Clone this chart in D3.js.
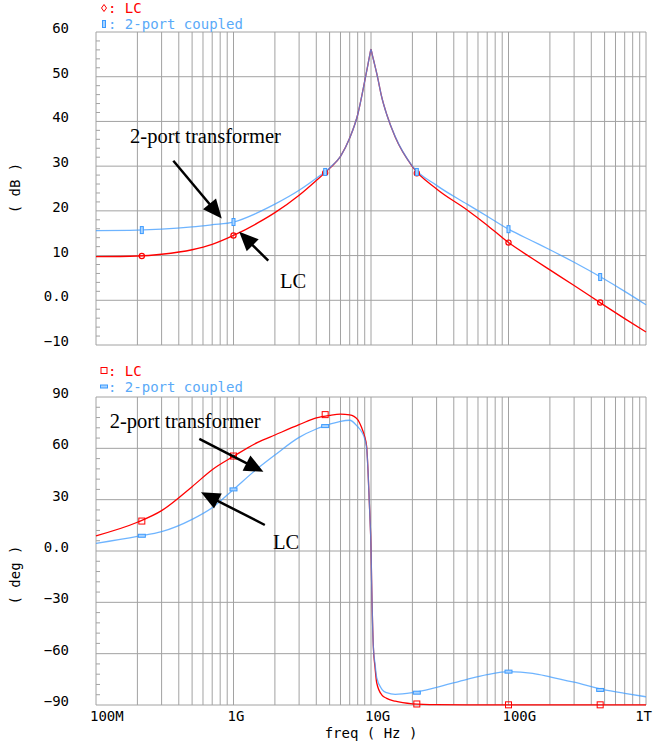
<!DOCTYPE html>
<html>
<head>
<meta charset="utf-8">
<script src="https://cdn.jsdelivr.net/npm/d3@7"></script>
<style>
   body{margin:0;background:#fff;}
   svg{display:block;}
   .lbl{font-family:'DejaVu Sans Mono',monospace;font-size:14px;}
   .note{font-family:'Liberation Serif','Times New Roman',serif;font-size:20.5px;}
</style>
</head>
<body>
<svg id="chart" width="653" height="747"></svg>
<script>
// frequencies in GHz
var freqMag = [0.1,0.2,0.3,0.5,0.7,1,1.5,2,3,4,5,6,7,8,9,9.5,9.8,10,10.2,10.5,11,12,13,15,20,30,50,70,100,150,200,300,500,700,1000];
var magLC   = [9.75,9.9,10.3,11.3,12.5,14.5,17.3,19.6,23.5,26.8,29.5,32.2,36.3,41.5,49.0,52.7,54.9,56.1,55.0,53.4,50.8,45.3,41.6,36.5,29.9,24.9,20.2,16.8,12.9,9.3,6.8,3.3,-1.2,-4.1,-7.1];
var magTwo  = [15.6,15.7,15.9,16.4,16.9,17.5,19.6,21.5,24.6,27.3,29.6,32.2,36.3,41.5,49.0,52.7,54.9,56.1,55.0,53.4,50.8,45.3,41.6,36.6,30.0,25.7,21.5,18.8,15.9,13.2,11.3,8.5,4.7,2.0,-1.0];

var freqPh  = [0.1,0.2,0.3,0.5,0.7,1,1.5,2,3,4,5,6,7,8,8.5,9,9.3,9.5,9.8,10,10.1,10.4,10.7,11,12,13,15,20,30,50,70,100,150,200,300,500,700,1000];
var phLC    = [8.9,16.8,23.6,37.6,47.5,55.3,63.5,67.8,73.8,77.8,79.3,80.0,79.6,76.8,72.6,66.8,61,48,22,2,-17,-56,-68,-77,-84.2,-86.1,-87.8,-89.3,-89.8,-89.9,-89.9,-89.9,-89.9,-89.9,-89.9,-89.9,-89.9,-89.9];
var phTwo   = [4.5,8.6,11.3,18.5,25.3,36,48.3,56.1,66.4,71.3,74,75.8,76.4,72.6,70,65.5,60,48,22,2,-17,-56,-66,-74,-80.8,-82.8,-83.8,-82.8,-79.7,-75,-72.3,-70.5,-71.5,-73.5,-76.7,-81.2,-83.2,-85.2];

// marker points
var markFreq  = [0.2154,1,4.642,21.54,100,464.2];
var markMagLC  = [9.9,14.5,28.5,28.4,12.9,-0.5];
var markMagTwo = [15.7,17.5,28.7,28.7,15.9,5.2];
var markPhLC   = [17.5,55.5,79.7,-89.4,-89.9,-89.9];
var markPhTwo  = [8.9,36,73,-82.8,-70.5,-81.2];

var magTicks = [-10,0,10,20,30,40,50,60];
var magTickLabels = ['\u221210','0.0','10','20','30','40','50','60'];
var phTicks = [-90,-60,-30,0,30,60,90];
var phTickLabels = ['\u221290','\u221260','\u221230','0.0','30','60','90'];
var freqTicks = [0.1,1,10,100,1000];
var freqTickLabels = ['100M','1G','10G','100G','1T'];

var RED = '#ff0000', BLUE = '#3d9bff', BLUE_TXT = '#5aaaf8', GRID = '#a2a2a2';

(function(){
   var svg = d3.select('#chart');
   var x = d3.scaleLog().domain([0.1, 1000]).range([96, 646]);

   var panels = [
      {
         y : d3.scaleLinear().domain([-10, 60]).range([345, 32]),
         ticks : magTicks, labels : magTickLabels, minor : 2,
         title : '( dB )', titleY : 188, legendY : 13,
         freq : freqMag, lc : magLC, two : magTwo,
         mLC : markMagLC, mTwo : markMagTwo,
         lcSym : 'circle', twoSym : 'vbar',
         notes : {text : [0.177, 35.2], lc : [2.18, 2.75],
                  a1 : [[0.365, 31.2], [0.821, 18.3]], a2 : [[1.79, 8.86], [1.10, 15.3]]}
      },
      {
         y : d3.scaleLinear().domain([-90, 90]).range([705, 397]),
         ticks : phTicks, labels : phTickLabels, minor : 6,
         title : '( deg )', titleY : 575, legendY : 375.5,
         freq : freqPh, lc : phLC, two : phTwo,
         mLC : markPhLC, mTwo : markPhTwo,
         lcSym : 'square', twoSym : 'hbar',
         notes : {text : [0.126, 72.1], lc : [1.94, 1.2],
                  a1 : [[0.564, 65.5], [1.65, 46.3]], a2 : [[1.69, 15.2], [0.58, 34.3]]}
      }
   ];

   function symbol(g, kind, cx, cy, color){
      if(kind === 'circle'){
         g.append('circle').attr('cx', cx).attr('cy', cy).attr('r', 2.6)
            .attr('fill', 'none').attr('stroke', color).attr('stroke-width', 1.2);
      } else if(kind === 'diamond'){
         g.append('path').attr('d', 'M' + cx + ',' + (cy - 3.5) + 'L' + (cx + 2.5) + ',' + cy +
            'L' + cx + ',' + (cy + 3.5) + 'L' + (cx - 2.5) + ',' + cy + 'Z')
            .attr('fill', 'none').attr('stroke', color).attr('stroke-width', 1);
      } else if(kind === 'square'){
         g.append('rect').attr('x', cx - 3).attr('y', cy - 3).attr('width', 6).attr('height', 6)
            .attr('fill', 'none').attr('stroke', color).attr('stroke-width', 1);
      } else if(kind === 'vbar'){
         g.append('rect').attr('x', cx - 1.5).attr('y', cy - 3.5).attr('width', 3).attr('height', 7)
            .attr('fill', '#aad4ff').attr('stroke', color).attr('stroke-width', 1);
      } else {
         g.append('rect').attr('x', cx - 3.5).attr('y', cy - 1.5).attr('width', 7).attr('height', 3)
            .attr('fill', '#aad4ff').attr('stroke', color).attr('stroke-width', 1);
      }
   }

   function arrow(g, p0, p1){
      var dx = p1[0] - p0[0], dy = p1[1] - p0[1], len = Math.sqrt(dx*dx + dy*dy);
      var ux = dx/len, uy = dy/len, hl = 19, hw = 8.5;
      var bx = p1[0] - ux*hl, by = p1[1] - uy*hl;
      g.append('line').attr('x1', p0[0]).attr('y1', p0[1]).attr('x2', bx + ux*2).attr('y2', by + uy*2)
         .attr('stroke', '#000').attr('stroke-width', 2.5);
      g.append('path')
         .attr('d', 'M' + p1[0] + ',' + p1[1] + 'L' + (bx - uy*hw) + ',' + (by + ux*hw) +
            'L' + (bx + uy*hw) + ',' + (by - ux*hw) + 'Z')
         .attr('fill', '#000');
   }

   panels.forEach(function(p){
      var g = svg.append('g');
      var y = p.y, y0 = y.range()[0], y1 = y.range()[1];

      // vertical grid
      x.ticks().forEach(function(t){
         g.append('line').attr('x1', x(t)).attr('x2', x(t)).attr('y1', y1).attr('y2', y0)
            .attr('stroke', GRID).attr('stroke-width', 1);
      });
      // horizontal grid
      p.ticks.forEach(function(t){
         g.append('line').attr('x1', x.range()[0]).attr('x2', x.range()[1]).attr('y1', y(t)).attr('y2', y(t))
            .attr('stroke', GRID).attr('stroke-width', 1);
      });
      // minor ticks on left edge
      d3.range(y.domain()[0], y.domain()[1], p.minor).forEach(function(t){
         if(p.ticks.indexOf(t) >= 0) return;
         g.append('line').attr('x1', x.range()[0]).attr('x2', x.range()[0] + 4).attr('y1', y(t)).attr('y2', y(t))
            .attr('stroke', GRID).attr('stroke-width', 1);
      });
      // tick labels
      p.ticks.forEach(function(t, i){
         g.append('text').attr('class', 'lbl').attr('x', 69).attr('y', y(t) + 1)
            .attr('text-anchor', 'end').text(p.labels[i]);
      });
      // y title
      g.append('text').attr('class', 'lbl')
         .attr('transform', 'translate(20,' + p.titleY + ') rotate(-90)')
         .attr('text-anchor', 'middle').text(p.title);

      // legend
      var lg = [{name : 'LC', color : RED, txt : RED, sym : p.lcSym === 'circle' ? 'diamond' : 'square'},
                {name : '2-port coupled', color : BLUE, txt : BLUE_TXT, sym : p.twoSym}];
      lg.forEach(function(d, i){
         var by = p.legendY + i*16;
         symbol(g, d.sym, 104, by - 5, d.color);
         g.append('text').attr('class', 'lbl').attr('x', 108).attr('y', by)
            .attr('fill', d.txt).text(': ' + d.name);
      });

      // curves
      var line = d3.line().curve(d3.curveMonotoneX)
         .x(function(d){ return x(d[0]); }).y(function(d){ return y(d[1]); });
      g.append('path').attr('d', line(p.freq.map(function(f, i){ return [f, p.lc[i]]; })))
         .attr('fill', 'none').attr('stroke', RED).attr('stroke-width', 1.3);
      g.append('path').attr('d', line(p.freq.map(function(f, i){ return [f, p.two[i]]; })))
         .attr('fill', 'none').attr('stroke', BLUE).attr('stroke-opacity', 0.75).attr('stroke-width', 1.3);

      // markers
      markFreq.forEach(function(f, i){
         symbol(g, p.lcSym, x(f), y(p.mLC[i]), RED);
         symbol(g, p.twoSym, x(f), y(p.mTwo[i]), BLUE);
      });

      // annotations
      var n = p.notes;
      g.append('text').attr('class', 'note').attr('x', x(n.text[0])).attr('y', y(n.text[1])).text('2-port transformer');
      g.append('text').attr('class', 'note').attr('x', x(n.lc[0])).attr('y', y(n.lc[1])).text('LC');
      arrow(g, [x(n.a1[0][0]), y(n.a1[0][1])], [x(n.a1[1][0]), y(n.a1[1][1])]);
      arrow(g, [x(n.a2[0][0]), y(n.a2[0][1])], [x(n.a2[1][0]), y(n.a2[1][1])]);
   });

   // x axis labels (bottom panel); last one pulled in so it stays on the page
   freqTicks.forEach(function(t, i){
      var last = i === freqTicks.length - 1;
      svg.append('text').attr('class', 'lbl').attr('x', last ? 652 : x(t) - 6).attr('y', 721)
         .attr('text-anchor', last ? 'end' : 'start').text(freqTickLabels[i]);
   });
   svg.append('text').attr('class', 'lbl').attr('x', 371).attr('y', 738)
      .attr('text-anchor', 'middle').text('freq ( Hz )');
})();
</script>
</body>
</html>
